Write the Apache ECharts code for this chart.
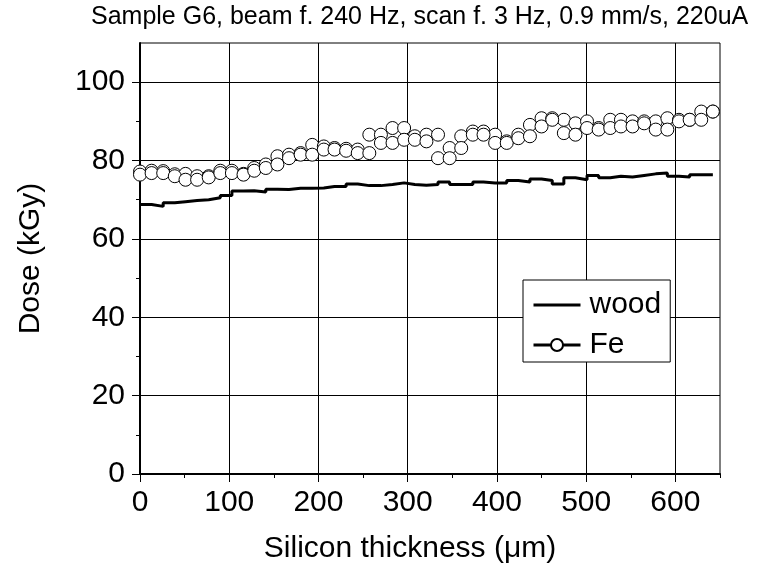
<!DOCTYPE html>
<html>
<head>
<meta charset="utf-8">
<script src="https://cdn.jsdelivr.net/npm/echarts@6/dist/echarts.min.js"></script>
<style>
  html, body { margin: 0; padding: 0; background: #fff; }
  #chart { width: 761px; height: 576px; }
</style>
</head>
<body>
<div id="chart"></div>
<script>
// 硅片厚度 (µm)
const thickness = [0, 13, 26, 39, 51, 64, 77, 90, 103, 116, 128, 141, 154, 167, 180, 193, 206, 218, 231, 244,
  257, 270, 283, 296, 308, 321, 334, 347, 360, 373, 385, 398, 411, 424, 437, 450, 462, 475, 488, 501,
  514, 527, 539, 552, 565, 578, 591, 604, 616, 629, 642];
// wood 剂量 (kGy)
const wood = [68.8, 68.3, 69.2, 69.5, 69.8, 70.0, 70.5, 71.1, 72.2, 72.3, 72.0, 72.7, 72.6, 72.9, 72.9, 73.0, 73.4, 73.4, 74.0, 73.6,
  73.6, 73.9, 74.3, 73.9, 73.7, 73.9, 74.5, 73.9, 73.9, 74.5, 74.3, 74.3, 74.9, 74.5, 75.3, 74.9, 74.0, 75.6, 75.1, 76.2,
  75.6, 76.0, 75.8, 76.2, 76.6, 76.8, 76.0, 75.8, 76.4, 76.4, 76.4];
// Fe 剂量, 两组测量
const feA = [77.2, 77.4, 77.3, 76.5, 76.6, 76.0, 76.0, 77.4, 77.4, 76.6, 78.1, 79.0, 81.1, 81.5, 81.9, 84.0, 83.6, 83.2, 83.0, 82.8,
  86.6, 86.6, 88.3, 88.3, 86.2, 86.6, 86.6, 83.2, 86.2, 87.4, 87.4, 86.6, 84.9, 86.6, 89.1, 90.8, 90.8, 90.4, 89.5, 90.0,
  88.3, 90.4, 90.4, 90.0, 90.0, 90.0, 90.8, 90.4, 90.4, 92.5, 92.5];
const feB = [76.4, 76.8, 76.8, 76.0, 75.1, 75.1, 75.7, 76.8, 76.8, 76.4, 77.4, 78.1, 79.0, 80.6, 81.5, 81.5, 82.8, 82.8, 82.5, 81.9,
  81.9, 84.5, 84.5, 85.3, 85.3, 84.9, 80.6, 80.6, 83.2, 86.6, 86.6, 84.5, 84.5, 85.7, 86.2, 88.7, 90.4, 87.0, 86.6, 88.3,
  87.9, 88.3, 88.7, 88.7, 89.5, 87.9, 87.9, 90.0, 90.4, 90.4, 92.5];
// 刻度
const xMajor = [0, 100, 200, 300, 400, 500, 600];
const xMinor = [50, 150, 250, 350, 450, 550, 650];
const yMajor = [0, 20, 40, 60, 80, 100];
const yMinor = [10, 30, 50, 70, 90];

const FONT = 'Liberation Sans, Arial, sans-serif';
const pairs = (ys) => thickness.map((x, i) => [x, ys[i]]);

let myChart = echarts.init(document.getElementById('chart'), null, { renderer: 'canvas' });

const feStyle = {
  type: 'line',
  name: 'Fe',
  symbol: 'circle',
  symbolSize: 13,
  showAllSymbol: true,
  lineStyle: { opacity: 0 },
  itemStyle: { color: '#fff', borderColor: '#000', borderWidth: 1 },
  emphasis: { disabled: true },
  z: 4
};

let option = {
  animation: false,
  title: {
    text: 'Sample G6, beam f. 240 Hz, scan f. 3 Hz, 0.9 mm/s, 220uA',
    left: 86,
    top: 0,
    textStyle: { fontFamily: FONT, fontSize: 25, fontWeight: 'normal', color: '#000' }
  },
  grid: {
    left: 140, right: 41, top: 43, bottom: 102,
    show: true, borderColor: '#000', borderWidth: 1
  },
  legend: {
    orient: 'vertical',
    left: 523,
    top: 280,
    data: [
      { name: 'wood', itemStyle: { opacity: 0 }, lineStyle: { width: 3, color: '#000' } },
      { name: 'Fe', lineStyle: { opacity: 1, width: 3, color: '#000' } }
    ],
    itemWidth: 47,
    itemHeight: 15,
    itemGap: 10,
    selectedMode: false,
    backgroundColor: '#fff',
    borderColor: '#000',
    borderWidth: 1,
    borderRadius: 0,
    padding: [10, 9, 2, 9],
    textStyle: { fontFamily: FONT, fontSize: 30, color: '#000', padding: [0, 0, 0, 4] }
  },
  xAxis: [
    {
      type: 'value', min: 0, max: 650, interval: 100,
      name: 'Silicon thickness (μm)', nameLocation: 'middle', nameGap: 60,
      nameTextStyle: { fontFamily: FONT, fontSize: 30, color: '#000', padding: [0, 40, 0, 0] },
      axisLine: { show: true, onZero: false, lineStyle: { color: '#000', width: 2 } },
      axisTick: { show: true, length: 8, customValues: xMajor, lineStyle: { color: '#000', width: 1 } },
      axisLabel: { fontFamily: FONT, fontSize: 30, color: '#000', margin: 14, customValues: xMajor },
      splitLine: { show: true, lineStyle: { color: '#000', width: 1 } }
    },
    {
      type: 'value', min: 0, max: 650, position: 'bottom',
      axisLine: { show: false },
      axisTick: { show: true, length: 4, customValues: xMinor, lineStyle: { color: '#000', width: 1 } },
      axisLabel: { show: false },
      splitLine: { show: false }
    }
  ],
  yAxis: [
    {
      type: 'value', min: 0, max: 110, interval: 20,
      name: 'Dose (kGy)', nameLocation: 'middle', nameGap: 94,
      nameTextStyle: { fontFamily: FONT, fontSize: 30, color: '#000' },
      axisLine: { show: true, onZero: false, lineStyle: { color: '#000', width: 2 } },
      axisTick: { show: true, length: 8, customValues: yMajor, lineStyle: { color: '#000', width: 1 } },
      axisLabel: { fontFamily: FONT, fontSize: 30, color: '#000', margin: 15, customValues: yMajor },
      splitLine: { show: true, lineStyle: { color: '#000', width: 1 } }
    },
    {
      type: 'value', min: 0, max: 110, position: 'left',
      axisLine: { show: false },
      axisTick: { show: true, length: 4, customValues: yMinor, lineStyle: { color: '#000', width: 1 } },
      axisLabel: { show: false },
      splitLine: { show: false }
    }
  ],
  series: [
    {
      name: 'wood',
      type: 'line',
      step: 'end',
      symbol: 'none',
      data: pairs(wood),
      lineStyle: { color: '#000', width: 3 },
      itemStyle: { color: '#000' },
      emphasis: { disabled: true },
      z: 3
    },
    Object.assign({ data: pairs(feA) }, feStyle),
    Object.assign({ data: pairs(feB) }, feStyle)
  ]
};

myChart.setOption(option);
window.addEventListener('resize', function () {
  myChart.resize();
});
</script>
</body>
</html>
